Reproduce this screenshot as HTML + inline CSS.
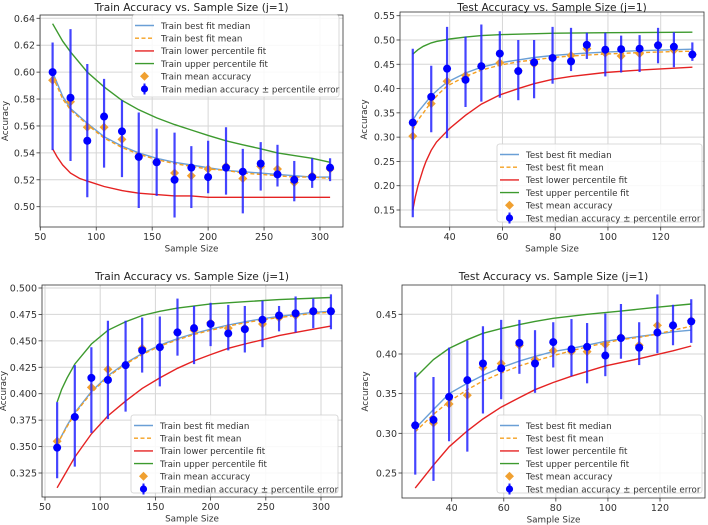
<!DOCTYPE html>
<html><head><meta charset="utf-8"><style>
html,body{margin:0;padding:0;background:#fff;}
svg{display:block;font-family:"DejaVu Sans","Liberation Sans",sans-serif;}
</style></head><body>
<svg id="fig" width="708" height="525" viewBox="0 0 708 525" xmlns="http://www.w3.org/2000/svg"></svg>
<script>
// ---- Panel 1: Train (top-left) ----
const p1X = [61,77,92,107,123,138,154,170,185,200,216,231,247,262,277,293,309];
const p1Median = [.600,.581,.549,.567,.556,.537,.533,.520,.529,.522,.529,.526,.532,.524,.520,.522,.529];
const p1Mean = [.594,.578,.559,.559,.550,.537,.533,.525,.523,.528,.530,.521,.530,.528,.518,.523,.528];
const p1Lo = [.542,.534,.507,.529,.522,.499,.508,.492,.499,.510,.509,.495,.512,.515,.504,.514,.519];
const p1Hi = [.622,.632,.606,.595,.579,.570,.558,.555,.545,.549,.559,.543,.548,.546,.534,.536,.536];
const p1FitX = [61,70,77,92,107,123,138,154,170,185,200,216,231,247,262,277,293,309];
const p1FitMedian = [.600,.582,.573,.562,.552,.545,.540,.536,.533,.531,.529,.527,.526,.525,.524,.523,.522,.522];
const p1FitMean = [.597,.580,.572,.561,.551,.544,.539,.535,.532,.530,.528,.527,.525,.524,.523,.522,.522,.521];
const p1UpX = [61,70,77,92,107,123,138,154,170,185,200,216,231,247,262,277,293,309];
const p1Up = [.636,.623,.615,.600,.589,.579,.572,.566,.561,.557,.553,.549,.546,.543,.540,.538,.536,.533];
const p1LowX = [61,65,70,77,85,92,107,123,138,154,170,185,200,231,262,309];
const p1Low = [.543,.537,.531,.525,.521,.519,.515,.512,.510,.509,.508,.508,.507,.507,.507,.507];
const p1XTicks = [50,100,150,200,250,300];
const p1YTicks = [.50,.52,.54,.56,.58,.60,.62,.64];

// ---- Panel 2: Test (top-right) ----
const p2X = [26,33,39,46,52,59,66,72,79,86,92,99,105,112,119,125,132];
const p2Median = [.330,.383,.441,.418,.446,.472,.436,.454,.463,.456,.490,.480,.481,.482,.489,.486,.470];
const p2Mean = [.302,.369,.415,.427,.446,.453,.437,.451,.463,.468,.482,.473,.467,.472,.490,.479,.470];
const p2Lo = [.135,.310,.298,.362,.373,.381,.376,.380,.410,.436,.461,.425,.433,.434,.452,.444,.457];
const p2Hi = [.482,.447,.527,.507,.532,.518,.500,.500,.527,.525,.515,.515,.509,.510,.525,.516,.495];
const p2FitX = [26,28,30,33,36,39,46,52,59,66,72,79,86,92,99,112,125,132];
const p2FitMedian = [.335,.352,.365,.385,.400,.413,.432,.444,.453,.459,.464,.468,.471,.473,.475,.478,.480,.481];
const p2FitMean = [.315,.335,.350,.372,.390,.405,.425,.438,.448,.455,.459,.464,.467,.469,.471,.474,.476,.477];
const p2UpX = [26,28,30,33,35,40,46,52,60,80,100,132];
const p2Up = [.471,.480,.487,.494,.497,.502,.506,.509,.511,.514,.515,.516];
const p2LowX = [26,27,28,30,31,33,35,40,46,52,59,66,72,79,86,99,112,132];
const p2Low = [.150,.178,.200,.235,.250,.273,.290,.318,.345,.368,.387,.400,.410,.419,.425,.433,.438,.444];
const p2XTicks = [40,60,80,100,120];
const p2YTicks = [.15,.20,.25,.30,.35,.40,.45,.50,.55];

// ---- Panel 3: Train (bottom-left) ----
const p3X = [61,77,92,107,123,138,154,170,185,200,216,231,247,262,277,293,309];
const p3Median = [.349,.378,.415,.413,.427,.441,.444,.458,.462,.466,.457,.461,.470,.474,.476,.478,.478];
const p3Mean = [.355,.378,.406,.423,.427,.443,.444,.458,.460,.467,.462,.462,.466,.472,.474,.478,.478];
const p3Lo = [.320,.331,.363,.376,.383,.420,.407,.436,.428,.445,.441,.439,.444,.459,.458,.462,.461];
const p3Hi = [.392,.427,.444,.469,.469,.472,.473,.490,.483,.486,.484,.483,.488,.483,.492,.490,.494];
const p3FitX = [61,70,77,92,107,123,138,154,170,185,200,216,231,247,262,277,293,309];
const p3FitMedian = [.352,.370,.382,.402,.417,.429,.438,.446,.452,.457,.461,.465,.468,.471,.473,.475,.477,.478];
const p3FitMean = [.352,.369,.381,.401,.416,.428,.437,.445,.451,.456,.460,.464,.467,.470,.472,.474,.476,.477];
const p3UpX = [61,65,70,77,92,107,123,138,154,170,200,231,262,309];
const p3Up = [.392,.404,.415,.428,.447,.460,.468,.474,.478,.481,.485,.487,.489,.491];
const p3LowX = [61,77,92,107,123,138,154,170,185,200,216,231,247,262,277,293,309];
const p3Low = [.311,.340,.362,.379,.393,.405,.415,.424,.431,.437,.443,.447,.451,.455,.458,.461,.464];
const p3XTicks = [50,100,150,200,250,300];
const p3YTicks = [.325,.350,.375,.400,.425,.450,.475,.500];

// ---- Panel 4: Test (bottom-right) ----
const p4X = [26,33,39,46,52,59,66,72,79,86,92,99,105,112,119,125,132];
const p4Median = [.310,.317,.346,.367,.388,.382,.414,.388,.415,.406,.409,.398,.420,.408,.427,.436,.441];
const p4Mean = [.310,.313,.337,.348,.383,.388,.411,.393,.404,.403,.403,.412,.421,.411,.436,.435,.442];
const p4Lo = [.248,.240,.290,.277,.325,.343,.375,.351,.383,.372,.363,.372,.394,.386,.401,.411,.414];
const p4Hi = [.377,.371,.408,.417,.435,.443,.443,.430,.440,.444,.439,.451,.463,.440,.475,.462,.469];
const p4FitX = [26,33,39,46,52,59,66,72,79,86,92,99,105,112,119,125,132];
const p4FitMedian = [.306,.330,.350,.363,.373,.383,.391,.397,.403,.407,.411,.416,.419,.422,.425,.428,.430];
const p4FitMean = [.302,.324,.340,.355,.366,.376,.385,.391,.398,.404,.409,.414,.418,.421,.425,.430,.435];
const p4UpX = [26,33,39,46,52,59,66,72,79,92,105,119,132];
const p4Up = [.370,.393,.407,.418,.426,.432,.437,.441,.445,.450,.454,.459,.463];
const p4LowX = [26,33,39,46,52,59,66,72,79,86,92,99,112,125,132];
const p4Low = [.231,.260,.283,.303,.318,.333,.345,.355,.364,.372,.378,.385,.394,.404,.410];
const p4XTicks = [40,60,80,100,120];
const p4YTicks = [.25,.30,.35,.40,.45];

const NS = "http://www.w3.org/2000/svg";
const fig = document.getElementById('fig');
function mk(tag, attrs, parent){
  const e = document.createElementNS(NS, tag);
  for (const k in attrs) e.setAttribute(k, attrs[k]);
  (parent||fig).appendChild(e);
  return e;
}
function linScale(d0,d1,r0,r1){ return v => r0 + (v-d0)*(r1-r0)/(d1-d0); }

function panel(cfg){
  const g = mk('g',{});
  
  
  const sx = linScale(cfg.xd[0],cfg.xd[1],cfg.xr[0],cfg.xr[1]);
  const sy = linScale(cfg.yd[0],cfg.yd[1],cfg.yr[0],cfg.yr[1]);
  const B = cfg.box;
  cfg.xTicks.forEach(t=>{
    const x = sx(t);
    const gl = mk('line',{x1:x,x2:x,y1:B[1],y2:B[3],stroke:'#d6d6d6','stroke-width':1},g);
    
    
    mk('line',{x1:x,x2:x,y1:B[3],y2:B[3]+3.5,stroke:'#333','stroke-width':0.8},g);
    const tx = mk('text',{x:x,y:B[3]+13,'font-size':9.5,'text-anchor':'middle',fill:'#333'},g);
    tx.textContent = String(t);
    
    
  });
  cfg.yTicks.forEach(t=>{
    const y = sy(t);
    const gl = mk('line',{x1:B[0],x2:B[2],y1:y,y2:y,stroke:'#d6d6d6','stroke-width':1},g);
    
    
    mk('line',{x1:B[0]-3.5,x2:B[0],y1:y,y2:y,stroke:'#333','stroke-width':0.8},g);
    const tx = mk('text',{x:B[0]-5,y:y+3.5,'font-size':9.5,'text-anchor':'end',fill:'#333'},g);
    tx.textContent = t.toFixed(cfg.dec);
    
    
  });
  function line(xs, ys, color, dash, nm){
    const pts = xs.map((x,i)=>sx(x).toFixed(1)+','+sy(ys[i]).toFixed(1)).join(' ');
    const p = mk('polyline',{points:pts,fill:'none',stroke:color,'stroke-width':1.4},g);
    if (dash) p.setAttribute('stroke-dasharray', dash);
    
    
  }
  line(cfg.upX, cfg.up, '#3d9a2e', null, 'upper-percentile-fit');
  line(cfg.lowX, cfg.low, '#e52222', null, 'lower-percentile-fit');
  line(cfg.fitX, cfg.fitMedian, '#6a9fd6', null, 'best-fit-median');
  line(cfg.fitX, cfg.fitMean, '#f5a020', '4,2.5', 'best-fit-mean');
  cfg.x.forEach((x,i)=>{
    const cx = sx(x), cy = sy(cfg.mean[i]);
    const d = mk('path',{d:`M${cx} ${cy-4.5}L${cx+4.5} ${cy}L${cx} ${cy+4.5}L${cx-4.5} ${cy}Z`,fill:'#f0a030'},g);
    
    
  });
  cfg.x.forEach((x,i)=>{
    const cx = sx(x);
    const e = mk('line',{x1:cx,x2:cx,y1:sy(cfg.lo[i]),y2:sy(cfg.hi[i]),stroke:'#2323ff','stroke-width':2.2,'stroke-opacity':0.85},g);
    
    
    const c = mk('circle',{cx:cx,cy:sy(cfg.median[i]),r:4,fill:'#0000ff'},g);
    
    
  });
  const fr = mk('rect',{x:B[0],y:B[1],width:B[2]-B[0],height:B[3]-B[1],fill:'none',stroke:'#333','stroke-width':0.8},g);
  
  
  const cxm = (B[0]+B[2])/2;
  const tt = mk('text',{x:cxm,y:cfg.titleY,'font-size':10.6,'text-anchor':'middle',fill:'#222'},g);
  tt.textContent = cfg.title;
  
  
  const xl = mk('text',{x:cxm,y:B[3]+24.5,'font-size':8.8,'text-anchor':'middle',fill:'#333'},g);
  xl.textContent = 'Sample Size';
  
  
  const ym = (B[1]+B[3])/2;
  const yl = mk('text',{x:cfg.yLabelX,y:ym,'font-size':8.8,'text-anchor':'middle',fill:'#333',transform:`rotate(-90 ${cfg.yLabelX} ${ym})`},g);
  yl.textContent = 'Accuracy';
  
  
  const L = cfg.legend;
  const lg = mk('g',{},g);
  
  
  mk('rect',{x:L[0],y:L[1],width:L[2],height:L[3],rx:2.5,fill:'#fff','fill-opacity':0.85,stroke:'#d0d0d0','stroke-width':0.8},lg);
  const p = cfg.prefix;
  const labels = [p+' best fit median',p+' best fit mean',p+' lower percentile fit',p+' upper percentile fit',p+' mean accuracy',p+' median accuracy \u00b1 percentile error'];
  labels.forEach((lab,i)=>{
    const y = L[1]+10.5+i*12.7;
    const lx = L[0]+3;
    if (i<4){
      const cols = ['#6a9fd6','#f5a020','#e52222','#3d9a2e'];
      const ln = mk('line',{x1:lx,x2:lx+19,y1:y,y2:y,stroke:cols[i],'stroke-width':1.4},lg);
      if (i==1) ln.setAttribute('stroke-dasharray','4,2.5');
    } else if (i==4){
      const cx = lx+9.5;
      mk('path',{d:`M${cx} ${y-4.5}L${cx+4.5} ${y}L${cx} ${y+4.5}L${cx-4.5} ${y}Z`,fill:'#f0a030'},lg);
    } else {
      const cx = lx+9.5;
      mk('line',{x1:cx,x2:cx,y1:y-5.5,y2:y+5.5,stroke:'#2323ff','stroke-width':2},lg);
      mk('circle',{cx:cx,cy:y,r:3.6,fill:'#0000ff'},lg);
    }
    const t = mk('text',{x:lx+26,y:y+3.3,'font-size':8.7,fill:'#333'},lg);
    t.textContent = lab;
    
    
  });
}

panel({name:'train-chart-top', title:'Train Accuracy vs. Sample Size (j=1)', prefix:'Train',
  x:p1X, median:p1Median, mean:p1Mean, lo:p1Lo, hi:p1Hi, fitX:p1FitX, fitMedian:p1FitMedian, fitMean:p1FitMean,
  upX:p1UpX, up:p1Up, lowX:p1LowX, low:p1Low, xTicks:p1XTicks, yTicks:p1YTicks, dec:2,
  xd:[50,300], xr:[40.3,320], yd:[.50,.64], yr:[206.7,18.3], box:[40,15,343,227],
  titleY:11, yLabelX:8, legend:[132,15,207,82]});
panel({name:'test-chart-top', title:'Test Accuracy vs. Sample Size (j=1)', prefix:'Test',
  x:p2X, median:p2Median, mean:p2Mean, lo:p2Lo, hi:p2Hi, fitX:p2FitX, fitMedian:p2FitMedian, fitMean:p2FitMean,
  upX:p2UpX, up:p2Up, lowX:p2LowX, low:p2Low, xTicks:p2XTicks, yTicks:p2YTicks, dec:2,
  xd:[40,120], xr:[449.7,660.7], yd:[.15,.55], yr:[210,15.7], box:[400,12,704,227],
  titleY:11, yLabelX:367, legend:[497,144,205,78]});
panel({name:'train-chart-bottom', title:'Train Accuracy vs. Sample Size (j=1)', prefix:'Train',
  x:p3X, median:p3Median, mean:p3Mean, lo:p3Lo, hi:p3Hi, fitX:p3FitX, fitMedian:p3FitMedian, fitMean:p3FitMean,
  upX:p3UpX, up:p3Up, lowX:p3LowX, low:p3Low, xTicks:p3XTicks, yTicks:p3YTicks, dec:3,
  xd:[50,300], xr:[45,321], yd:[.325,.500], yr:[473,288], box:[42,285,342,497],
  titleY:280, yLabelX:6, legend:[131,415,207,78]});
panel({name:'test-chart-bottom', title:'Test Accuracy vs. Sample Size (j=1)', prefix:'Test',
  x:p4X, median:p4Median, mean:p4Mean, lo:p4Lo, hi:p4Hi, fitX:p4FitX, fitMedian:p4FitMedian, fitMean:p4FitMean,
  upX:p4UpX, up:p4Up, lowX:p4LowX, low:p4Low, xTicks:p4XTicks, yTicks:p4YTicks, dec:2,
  xd:[40,120], xr:[451.7,660], yd:[.25,.45], yr:[473,314.3], box:[402,285,705,498],
  titleY:280, yLabelX:368, legend:[497,415,205,78]});
</script>
</body></html>
